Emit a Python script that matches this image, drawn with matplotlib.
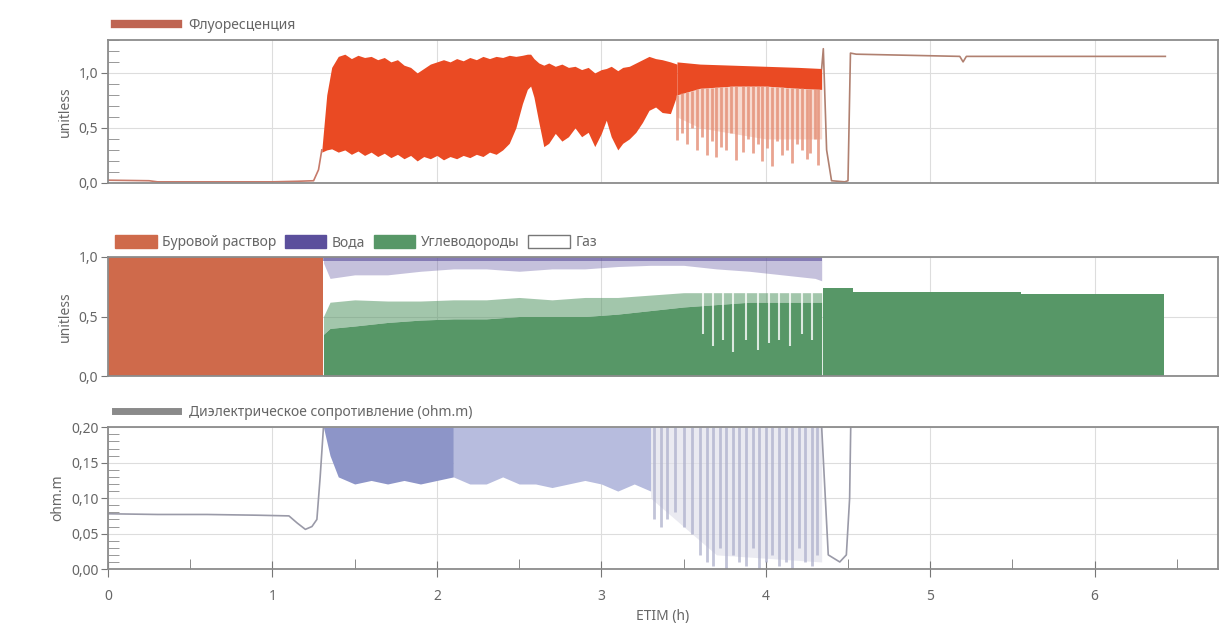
import numpy as np
import matplotlib
matplotlib.use('Agg')
import matplotlib.pyplot as plt
from matplotlib.patches import Patch
from matplotlib.lines import Line2D
from matplotlib.ticker import FuncFormatter, MultipleLocator

plt.rcParams['font.family'] = ['Noto Sans', 'DejaVu Sans']

# ---- Флуоресценция (unitless) ----
fl_pre_x = [0.0, 0.25, 0.30, 1.00, 1.15, 1.25, 1.28, 1.30]
fl_pre_y = [0.025, 0.02, 0.01, 0.01, 0.015, 0.02, 0.12, 0.30]

# dense oscillating part: envelope
fl_env_x = [1.30, 1.33, 1.36, 1.40, 1.44, 1.48, 1.52, 1.56, 1.60, 1.64,
            1.68, 1.72, 1.76, 1.80, 1.84, 1.88, 1.92, 1.96, 2.00, 2.04,
            2.08, 2.12, 2.16, 2.20, 2.24, 2.28, 2.32, 2.36, 2.40, 2.44,
            2.48, 2.52, 2.55, 2.57, 2.59, 2.62, 2.65, 2.68, 2.72, 2.76,
            2.80, 2.84, 2.88, 2.92, 2.96, 3.00, 3.03, 3.06, 3.10, 3.13,
            3.17, 3.21, 3.25, 3.29, 3.33, 3.37, 3.42, 3.46]
fl_env_hi = [0.30, 0.80, 1.05, 1.15, 1.17, 1.13, 1.16, 1.14, 1.15, 1.12,
             1.14, 1.10, 1.12, 1.07, 1.05, 1.00, 1.04, 1.08, 1.10, 1.12,
             1.10, 1.13, 1.11, 1.14, 1.12, 1.15, 1.13, 1.15, 1.14, 1.16,
             1.15, 1.16, 1.17, 1.17, 1.13, 1.09, 1.07, 1.09, 1.06, 1.08,
             1.05, 1.06, 1.03, 1.05, 1.00, 1.03, 1.04, 1.06, 1.02, 1.05,
             1.06, 1.09, 1.12, 1.15, 1.13, 1.12, 1.10, 1.08]
fl_env_lo = [0.28, 0.30, 0.31, 0.28, 0.30, 0.26, 0.29, 0.25, 0.28, 0.24,
             0.27, 0.23, 0.26, 0.22, 0.25, 0.20, 0.24, 0.22, 0.25, 0.21,
             0.24, 0.22, 0.25, 0.23, 0.26, 0.24, 0.28, 0.26, 0.30, 0.36,
             0.50, 0.72, 0.85, 0.88, 0.78, 0.55, 0.33, 0.36, 0.45, 0.38,
             0.42, 0.50, 0.42, 0.46, 0.33, 0.45, 0.57, 0.42, 0.30, 0.36,
             0.40, 0.46, 0.55, 0.66, 0.69, 0.64, 0.63, 0.80]

# sparse part: solid band + pale haze + separate downward spikes
fl_band_x = [3.46, 3.60, 3.80, 4.00, 4.20, 4.34]
fl_band_hi = [1.10, 1.08, 1.07, 1.06, 1.05, 1.04]
fl_band_lo = [0.80, 0.86, 0.88, 0.88, 0.86, 0.85]
fl_haze_lo = [0.60, 0.50, 0.45, 0.40, 0.40, 0.40]
fl_spike_x = [3.46, 3.49, 3.52, 3.55, 3.58, 3.61, 3.64, 3.67, 3.70, 3.73, 3.76, 3.79,
              3.82, 3.86, 3.89, 3.92, 3.95, 3.98, 4.01, 4.04, 4.07, 4.10, 4.13, 4.16,
              4.19, 4.22, 4.25, 4.27, 4.30, 4.32]
fl_spike_lo = [0.39, 0.45, 0.35, 0.50, 0.30, 0.42, 0.25, 0.38, 0.24, 0.33, 0.30, 0.45,
               0.21, 0.28, 0.40, 0.27, 0.35, 0.20, 0.32, 0.15, 0.38, 0.25, 0.30, 0.18,
               0.35, 0.30, 0.22, 0.27, 0.40, 0.16]

fl_post_x = [4.34, 4.35, 4.37, 4.40, 4.48, 4.50, 4.515, 4.55, 5.18, 5.20, 5.22, 6.43]
fl_post_y = [1.04, 1.22, 0.30, 0.02, 0.01, 0.02, 1.18, 1.17, 1.15, 1.10, 1.15, 1.15]

# ---- Флюиды (unitless, stacked) ----
mud_x = [0.0, 1.31]
mud_y = [1.0, 1.0]
hc_x = [1.31, 1.35, 1.50, 1.70, 1.90, 2.10, 2.30, 2.50, 2.70, 2.90, 3.10, 3.30,
        3.50, 3.70, 3.90, 4.10, 4.30, 4.34]
hc_base = [0.35, 0.40, 0.42, 0.45, 0.47, 0.48, 0.48, 0.50, 0.50, 0.50, 0.52, 0.55,
           0.58, 0.60, 0.62, 0.62, 0.62, 0.62]
hc_top = [0.50, 0.62, 0.64, 0.63, 0.63, 0.64, 0.64, 0.66, 0.64, 0.66, 0.66, 0.68,
          0.70, 0.70, 0.70, 0.70, 0.70, 0.70]
water_lo = [0.95, 0.82, 0.85, 0.85, 0.88, 0.90, 0.90, 0.88, 0.90, 0.90, 0.92, 0.93,
            0.93, 0.90, 0.88, 0.85, 0.82, 0.80]
gap_x = [3.62, 3.68, 3.74, 3.80, 3.88, 3.95, 4.02, 4.08, 4.15, 4.22, 4.28]
gap_lo = [0.35, 0.25, 0.30, 0.20, 0.30, 0.22, 0.28, 0.30, 0.25, 0.35, 0.30]
hc2_x = [4.35, 4.53, 5.55, 6.42]
hc2_y = [0.74, 0.705, 0.69, 0.69]

# ---- Диэлектрическое сопротивление (ohm.m) ----
res_pre_x = [0.0, 0.3, 0.6, 0.9, 1.10, 1.15, 1.20, 1.24, 1.27, 1.29, 1.31]
res_pre_y = [0.078, 0.077, 0.077, 0.076, 0.075, 0.065, 0.056, 0.060, 0.070, 0.130, 0.200]
res_env_x = [1.31, 1.35, 1.40, 1.50, 1.60, 1.70, 1.80, 1.90, 2.00, 2.10, 2.20, 2.30,
             2.40, 2.50, 2.60, 2.70, 2.80, 2.90, 3.00, 3.10, 3.20, 3.30]
res_env_lo = [0.200, 0.160, 0.130, 0.120, 0.125, 0.120, 0.125, 0.120, 0.125, 0.130,
              0.120, 0.120, 0.130, 0.120, 0.120, 0.115, 0.120, 0.125, 0.120, 0.110,
              0.120, 0.110]
res_haze_x = [3.30, 3.50, 3.70, 4.34]
res_haze_lo = [0.10, 0.06, 0.02, 0.01]
res_spike_x = [3.32, 3.36, 3.40, 3.45, 3.50, 3.55, 3.60, 3.64, 3.68, 3.72, 3.76, 3.80,
               3.84, 3.88, 3.92, 3.96, 4.00, 4.04, 4.08, 4.12, 4.16, 4.20, 4.24, 4.28, 4.31]
res_spike_lo = [0.070, 0.060, 0.070, 0.080, 0.060, 0.050, 0.020, 0.010, 0.005, 0.030,
                0.000, 0.020, 0.010, 0.005, 0.030, 0.000, 0.010, 0.020, 0.005, 0.010,
                0.000, 0.030, 0.010, 0.005, 0.020]
res_post_x = [4.34, 4.38, 4.45, 4.49, 4.51, 4.52]
res_post_y = [0.20, 0.02, 0.01, 0.02, 0.10, 0.25]

FL = '#ea4a23'
MUD = '#cf6a4b'
WATER = '#5b4f9c'
HC = '#579767'
RES = '#8d95c8'
TXT = '#666666'
GRID = '#dddddd'

fig = plt.figure(figsize=(12.21, 6.33), dpi=100)
ax1 = fig.add_axes([0.0885, 0.711, 0.909, 0.226])
ax2 = fig.add_axes([0.0885, 0.406, 0.909, 0.188])
ax3 = fig.add_axes([0.0885, 0.101, 0.909, 0.224])


def comma(fmt):
    return FuncFormatter(lambda v, p: (fmt % v).replace('.', ','))


for ax in (ax1, ax2, ax3):
    ax.set_xlim(0, 6.75)
    for s in ax.spines.values():
        s.set_color('#8c8c8c')
        s.set_linewidth(1.3)
    ax.xaxis.set_major_locator(MultipleLocator(1))
    ax.xaxis.set_minor_locator(MultipleLocator(0.5))
    ax.grid(True, which='major', color=GRID, lw=0.8)
    ax.set_axisbelow(True)
    ax.tick_params(axis='y', which='major', direction='out', length=5, color='#777777',
                   labelsize=10, labelcolor=TXT, pad=2)
    ax.tick_params(axis='y', which='minor', direction='in', length=8, color='#888888')

# panel 1
ax1.plot(fl_pre_x, fl_pre_y, color='#c77a6a', lw=1.2)
ax1.fill_between(fl_env_x, fl_env_lo, fl_env_hi, color=FL, lw=0)
ax1.fill_between(fl_band_x, fl_haze_lo, fl_band_lo, color='#f2c2b2', lw=0, alpha=0.6)
ax1.fill_between(fl_band_x, fl_band_lo, fl_band_hi, color=FL, lw=0)
ax1.vlines(fl_spike_x, fl_spike_lo, np.interp(fl_spike_x, fl_band_x, fl_band_lo),
           color='#e48d74', lw=2.0, alpha=0.8)
ax1.plot(fl_post_x, fl_post_y, color='#b08070', lw=1.2)
ax1.set_ylim(0, 1.3)
ax1.yaxis.set_major_locator(MultipleLocator(0.5))
ax1.yaxis.set_minor_locator(MultipleLocator(0.1))
ax1.yaxis.set_major_formatter(comma('%.1f'))
ax1.set_ylabel('unitless', color=TXT, fontsize=10)
ax1.tick_params(axis='x', which='both', bottom=False, labelbottom=False)
ax1.legend(handles=[Line2D([], [], color='#bf6552', lw=6)], labels=['Флуоресценция'],
           loc='lower left', bbox_to_anchor=(0, 1.0), frameon=False, borderaxespad=0.1,
           handlelength=4.5, fontsize=10, labelcolor=TXT)

# panel 2
ax2.fill_between(mud_x, 0, mud_y, color=MUD, lw=0)
ax2.fill_between(hc_x, 0, hc_base, color=HC, lw=0)
ax2.fill_between(hc_x, hc_base, hc_top, color=HC, lw=0, alpha=0.55)
ax2.fill_between(hc_x, water_lo, 1.0, color=WATER, lw=0, alpha=0.35)
ax2.fill_between(hc_x, 0.97, 1.0, color=WATER, lw=0, alpha=0.6)
ax2.vlines(gap_x, gap_lo, np.interp(gap_x, hc_x, hc_top), color='white', lw=1.5, alpha=0.8)
ax2.fill_between(hc2_x, 0, hc2_y, step='post', color=HC, lw=0)
ax2.set_ylim(0, 1.0)
ax2.yaxis.set_major_locator(MultipleLocator(0.5))
ax2.yaxis.set_minor_locator(MultipleLocator(0.1))
ax2.yaxis.set_major_formatter(comma('%.1f'))
ax2.set_ylabel('unitless', color=TXT, fontsize=10)
ax2.tick_params(axis='x', which='both', bottom=False, labelbottom=False)
ax2.legend(handles=[Patch(color=MUD), Patch(color=WATER), Patch(color=HC),
                    Patch(facecolor='white', edgecolor='#777777')],
           labels=['Буровой раствор', 'Вода', 'Углеводороды', 'Газ'], ncol=4,
           loc='lower left', bbox_to_anchor=(0, 1.0), frameon=False, borderaxespad=0.1,
           handlelength=3.0, handleheight=1.1, columnspacing=0.6, handletextpad=0.4,
           fontsize=10, labelcolor=TXT)

# panel 3
ax3.plot(res_pre_x, res_pre_y, color='#9a9aa8', lw=1.2)
ax3.fill_between(res_env_x[:10], res_env_lo[:10], 0.2, color=RES, lw=0)
ax3.fill_between(res_env_x[9:], res_env_lo[9:], 0.2, color='#b7bcde', lw=0)
ax3.fill_between(res_haze_x, res_haze_lo, 0.2, color='#e2e2ec', lw=0, alpha=0.7)
ax3.vlines(res_spike_x, res_spike_lo, 0.2, color='#aeb0cc', lw=2.0, alpha=0.75)
ax3.plot(res_post_x, res_post_y, color='#9a9aa8', lw=1.2)
ax3.set_ylim(0, 0.2)
ax3.yaxis.set_major_locator(MultipleLocator(0.05))
ax3.yaxis.set_minor_locator(MultipleLocator(0.01))
ax3.yaxis.set_major_formatter(comma('%.2f'))
ax3.set_ylabel('ohm.m', color=TXT, fontsize=10)
ax3.tick_params(axis='x', which='major', direction='inout', length=12, color='#777777',
                labelsize=10, labelcolor=TXT, pad=8)
ax3.tick_params(axis='x', which='minor', direction='in', length=7, color='#777777')
ax3.xaxis.set_major_formatter(FuncFormatter(lambda v, p: '%d' % v))
ax3.set_xlabel('ETIM (h)', color=TXT, fontsize=10, labelpad=4)
ax3.legend(handles=[Line2D([], [], color='#8a8a8a', lw=5)],
           labels=['Диэлектрическое сопротивление (ohm.m)'],
           loc='lower left', bbox_to_anchor=(0, 1.0), frameon=False, borderaxespad=0.1,
           handlelength=4.5, fontsize=10, labelcolor=TXT)

fig.savefig('out.png', dpi=100)
